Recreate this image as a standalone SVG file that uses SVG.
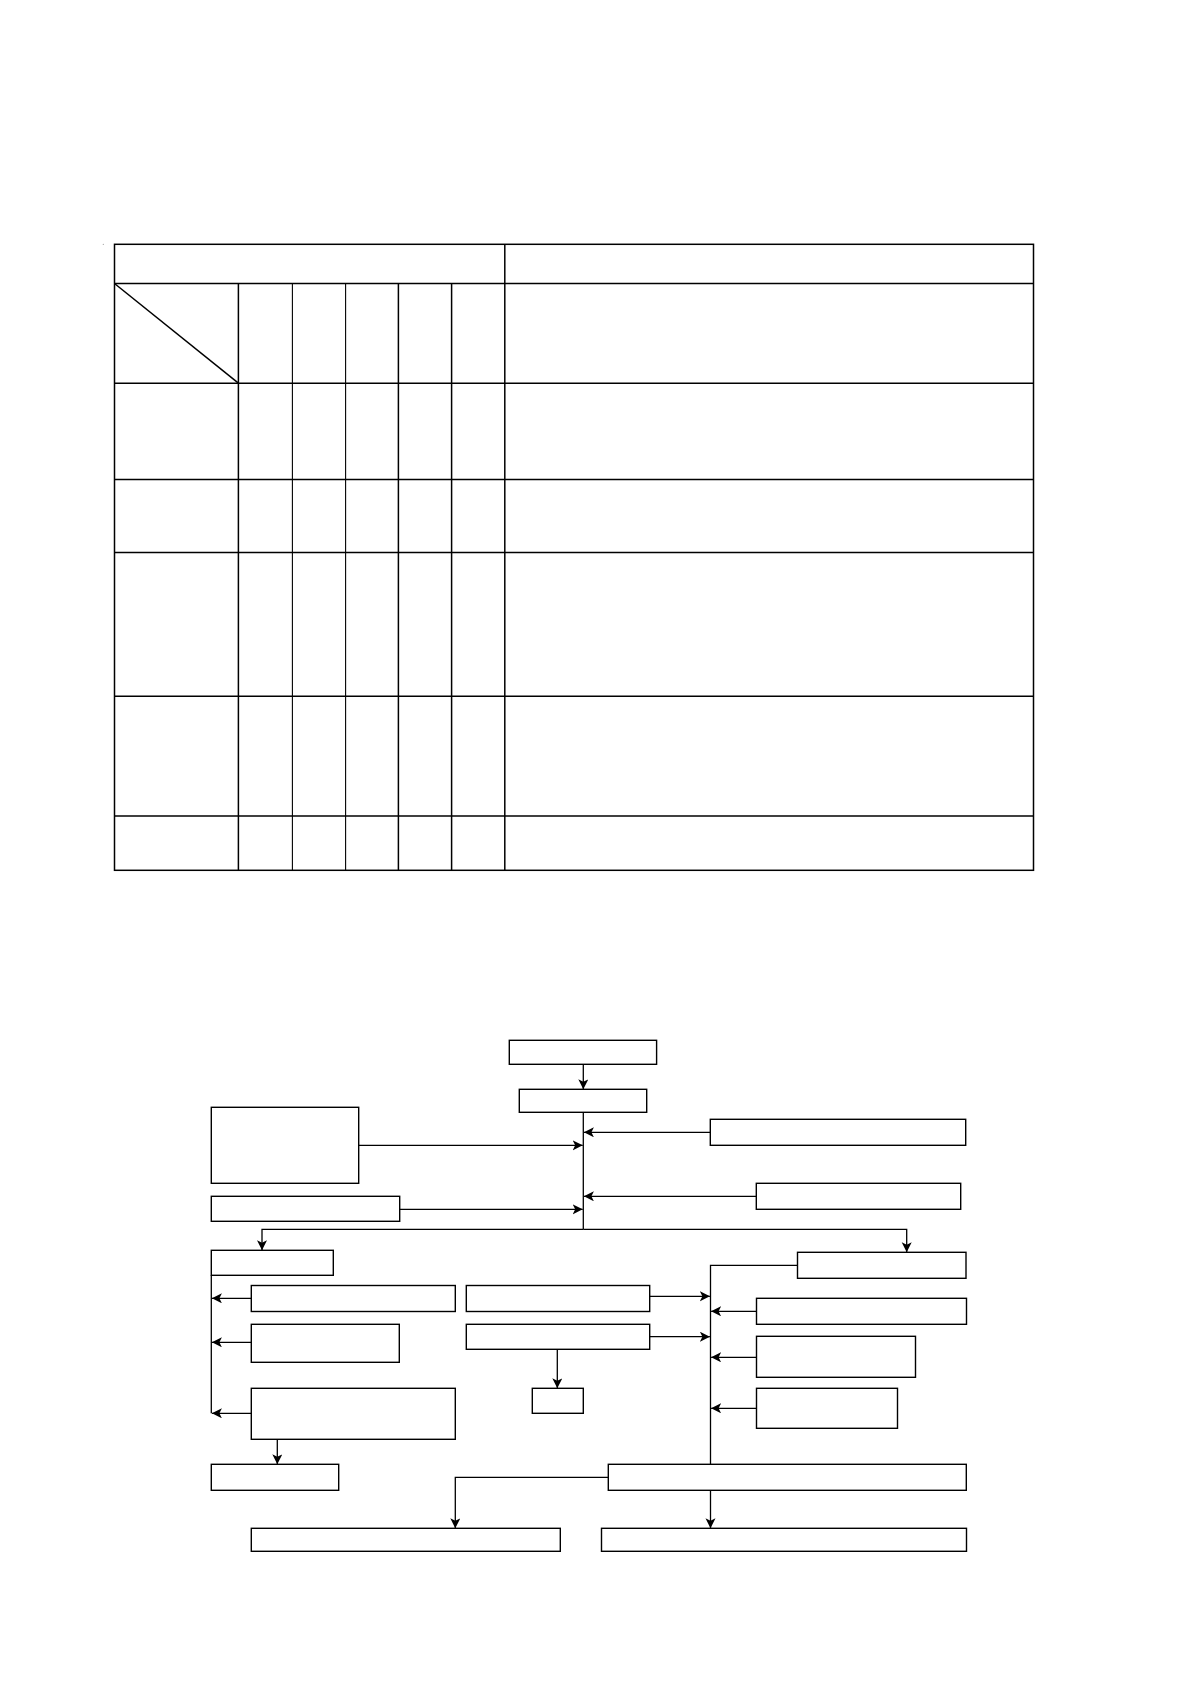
<svg xmlns="http://www.w3.org/2000/svg" width="1190" height="1684" viewBox="0 0 1190 1684">
<defs>
<style>
.t{fill:none;stroke:#000;stroke-width:1.5}
.tt{fill:none;stroke:#000;stroke-width:1.1}
.b{fill:#fff;stroke:#000;stroke-width:1.4}
.c{fill:none;stroke:#000;stroke-width:1.3}
.a{marker-end:url(#ah)}
</style>
<marker id="ah" markerUnits="userSpaceOnUse" markerWidth="12" markerHeight="12" refX="10" refY="5" orient="auto">
<path d="M0,0 L10,5 L0,10 L2.5,5 z" fill="#000"/>
</marker>
</defs>
<rect width="1190" height="1684" fill="#fff"/>
<circle cx="103.3" cy="244.3" r="0.6" fill="#999"/>
<g id="table">
<rect class="t" x="114.5" y="244.3" width="919" height="626"/>
<line class="t" x1="504.8" y1="244.3" x2="504.8" y2="870.3"/>
<line class="t" x1="114.5" y1="283.5" x2="1033.5" y2="283.5"/>
<line class="t" x1="114.5" y1="383.2" x2="1033.5" y2="383.2"/>
<line class="t" x1="114.5" y1="479.6" x2="1033.5" y2="479.6"/>
<line class="t" x1="114.5" y1="552.4" x2="1033.5" y2="552.4"/>
<line class="t" x1="114.5" y1="696.3" x2="1033.5" y2="696.3"/>
<line class="t" x1="114.5" y1="816" x2="1033.5" y2="816"/>
<line class="t" x1="238.4" y1="283.5" x2="238.4" y2="870.3"/>
<line class="tt" x1="292.4" y1="283.5" x2="292.4" y2="870.3"/>
<line class="tt" x1="345.6" y1="283.5" x2="345.6" y2="870.3"/>
<line class="t" x1="398.4" y1="283.5" x2="398.4" y2="870.3"/>
<line class="t" x1="451.6" y1="283.5" x2="451.6" y2="870.3"/>
<line class="t" x1="114.5" y1="283.5" x2="238.4" y2="383.2"/>
</g>
<g id="connectors">
<line class="c a" x1="583.3" y1="1064.3" x2="583.3" y2="1089.3"/>
<line class="c" x1="583.3" y1="1112.3" x2="583.3" y2="1229.3"/>
<line class="c a" x1="710.3" y1="1132.3" x2="583.9" y2="1132.3"/>
<line class="c a" x1="756.3" y1="1196.3" x2="583.9" y2="1196.3"/>
<line class="c a" x1="358.7" y1="1145.3" x2="582.7" y2="1145.3"/>
<line class="c a" x1="399.7" y1="1209.3" x2="582.7" y2="1209.3"/>
<polyline class="c a" points="583.3,1229.3 262,1229.3 262,1250.3"/>
<polyline class="c a" points="583.3,1229.3 906.7,1229.3 906.7,1252.3"/>
<line class="c" x1="211.3" y1="1275.3" x2="211.3" y2="1413.3"/>
<line class="c a" x1="251.3" y1="1298.3" x2="211.9" y2="1298.3"/>
<line class="c a" x1="251.3" y1="1342.3" x2="211.9" y2="1342.3"/>
<line class="c a" x1="251.3" y1="1413.3" x2="211.9" y2="1413.3"/>
<line class="c a" x1="277.3" y1="1439.3" x2="277.3" y2="1464.3"/>
<line class="c a" x1="649.7" y1="1296.3" x2="709.9" y2="1296.3"/>
<line class="c a" x1="649.7" y1="1336.7" x2="709.9" y2="1336.7"/>
<line class="c a" x1="557.3" y1="1349.3" x2="557.3" y2="1388.3"/>
<polyline class="c" points="797.5,1265.3 710.5,1265.3 710.5,1464.3"/>
<line class="c a" x1="756.5" y1="1311.3" x2="711.1" y2="1311.3"/>
<line class="c a" x1="756.5" y1="1357.3" x2="711.1" y2="1357.3"/>
<line class="c a" x1="756.5" y1="1408.3" x2="711.1" y2="1408.3"/>
<polyline class="c a" points="608.3,1477.3 455.3,1477.3 455.3,1528.3"/>
<line class="c a" x1="710.5" y1="1490.3" x2="710.5" y2="1528.3"/>
</g>
<g id="n1"><rect class="b" x="509.3" y="1040.3" width="147.3" height="24"/></g>
<g id="n2"><rect class="b" x="519.3" y="1089.3" width="127.4" height="23"/></g>
<g id="nRT1"><rect class="b" x="710.3" y="1119.3" width="255.4" height="26"/></g>
<g id="nRT2"><rect class="b" x="756.3" y="1183.3" width="204.4" height="26"/></g>
<g id="nTL"><rect class="b" x="211.3" y="1107.3" width="147.4" height="76"/></g>
<g id="nTL2"><rect class="b" x="211.3" y="1196.3" width="188.4" height="25"/></g>
<g id="nA"><rect class="b" x="211.3" y="1250.3" width="122" height="25"/></g>
<g id="nL1"><rect class="b" x="251.3" y="1285.5" width="204" height="26"/></g>
<g id="nL2"><rect class="b" x="251.3" y="1324.3" width="148" height="38"/></g>
<g id="nL3"><rect class="b" x="251.3" y="1388.3" width="204" height="51"/></g>
<g id="nL4"><rect class="b" x="211.3" y="1464.3" width="127.4" height="26"/></g>
<g id="nM1"><rect class="b" x="466.3" y="1285.5" width="183.4" height="26"/></g>
<g id="nM2"><rect class="b" x="466.3" y="1324.3" width="183.4" height="25"/></g>
<g id="nSmall"><rect class="b" x="532.3" y="1388.3" width="51" height="25"/></g>
<g id="nRA"><rect class="b" x="797.5" y="1252.3" width="168.5" height="26"/></g>
<g id="nR1"><rect class="b" x="756.5" y="1298.3" width="210" height="26"/></g>
<g id="nR2"><rect class="b" x="756.5" y="1336.3" width="159" height="41"/></g>
<g id="nR3"><rect class="b" x="756.5" y="1388.3" width="141" height="40"/></g>
<g id="nBR"><rect class="b" x="608.3" y="1464.3" width="358" height="26"/></g>
<g id="nB1"><rect class="b" x="251.3" y="1528.3" width="309" height="23"/></g>
<g id="nB2"><rect class="b" x="601.5" y="1528.3" width="365" height="23"/></g>
</svg>
